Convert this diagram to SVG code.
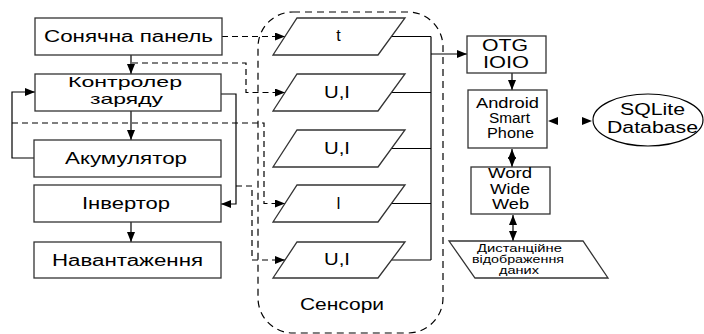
<svg xmlns="http://www.w3.org/2000/svg" width="704" height="334" viewBox="0 0 704 334">
<defs>
<marker id="ah" viewBox="0 0 10 8" refX="10" refY="4" markerWidth="10" markerHeight="8" markerUnits="userSpaceOnUse" orient="auto-start-reverse"><path d="M0,0 L10,4 L0,8 Z" fill="#000"/></marker>
<style>
.box{fill:#fff;stroke:#333;stroke-width:1.3}
.t{font-family:"Liberation Sans",Arial,sans-serif;fill:#000;text-anchor:middle}
.l{font-size:16px}
.c{font-size:15px}
.s{font-size:16px}
.r{font-size:14px}
.d{font-size:11px}
.ln{fill:none;stroke:#000;stroke-width:1.2}
.dash{fill:none;stroke:#000;stroke-width:1.2;stroke-dasharray:6 4}
</style>
</defs>
<rect width="704" height="334" fill="#fff"/>

<g id="sensors-group">
<rect x="258" y="12" width="185" height="321" rx="35" ry="35" fill="none" stroke="#000" stroke-width="1.2" stroke-dasharray="7 5"/>
<text class="t l" x="342" y="310" textLength="84" lengthAdjust="spacingAndGlyphs">Сенсори</text>
</g>

<g id="connectors">
<path class="ln" d="M131,55 V74" marker-end="url(#ah)"/>
<path class="ln" d="M131,111 V140" marker-end="url(#ah)"/>
<path class="ln" d="M131,222 V242" marker-end="url(#ah)"/>
<path class="ln" d="M35,158 H12 V92 H35" marker-end="url(#ah)"/>
<path class="ln" d="M221,94 H236 V204 H221" marker-end="url(#ah)"/>
<path class="dash" d="M222,36.5 H285" marker-end="url(#ah)"/>
<path class="dash" d="M132,63 H246 V92.5 H285" marker-end="url(#ah)"/>
<path class="dash" d="M12,123 H264 V203.5 H285" marker-end="url(#ah)"/>
<path class="dash" d="M236,186 H252 V260 H285" marker-end="url(#ah)"/>
<path class="ln" d="M391.5,36.5 H431 M391.5,92.5 H431 M391.5,148.5 H431 M391.5,203.5 H431 M391.5,260 H431 M431,36.5 V260"/>
<path class="ln" d="M431,54 H467" marker-end="url(#ah)"/>
<path class="ln" d="M512,73 V90" marker-end="url(#ah)"/>
<path class="ln" d="M512,149 V167" marker-start="url(#ah)" marker-end="url(#ah)"/>
<path class="ln" d="M513,215 V241" marker-start="url(#ah)" marker-end="url(#ah)"/>
<path d="M548,121 H592" fill="none" stroke="none" marker-start="url(#ah)" marker-end="url(#ah)"/>
</g>

<g id="solar">
<rect class="box" x="35" y="18" width="187" height="37"/>
<text class="t l" x="128.5" y="42" textLength="169" lengthAdjust="spacingAndGlyphs">Сонячна панель</text>
</g>
<g id="controller">
<rect class="box" x="35" y="74" width="186" height="37"/>
<text class="t c" x="125" y="87" textLength="114" lengthAdjust="spacingAndGlyphs">Контролер</text>
<text class="t c" x="126.5" y="104" textLength="73" lengthAdjust="spacingAndGlyphs">заряду</text>
</g>
<g id="battery">
<rect class="box" x="34" y="140" width="187" height="37"/>
<text class="t l" x="126" y="164" textLength="122" lengthAdjust="spacingAndGlyphs">Акумулятор</text>
</g>
<g id="inverter">
<rect class="box" x="34" y="185" width="187" height="37"/>
<text class="t l" x="126" y="209" textLength="88" lengthAdjust="spacingAndGlyphs">Інвертор</text>
</g>
<g id="load">
<rect class="box" x="34" y="242" width="187" height="36"/>
<text class="t l" x="127.5" y="266" textLength="151" lengthAdjust="spacingAndGlyphs">Навантаження</text>
</g>

<g id="sensor-t">
<path class="box" d="M297,18 H405 L378,55 H273 Z"/>
<text class="t s" x="338.5" y="41">t</text>
</g>
<g id="sensor-ui1">
<path class="box" d="M297,74 H405 L378,111 H273 Z"/>
<text class="t s" x="337" y="98" textLength="26" lengthAdjust="spacingAndGlyphs">U,I</text>
</g>
<g id="sensor-ui2">
<path class="box" d="M297,130 H405 L378,167 H273 Z"/>
<text class="t s" x="337" y="154" textLength="26" lengthAdjust="spacingAndGlyphs">U,I</text>
</g>
<g id="sensor-i">
<path class="box" d="M297,185 H405 L378,222 H273 Z"/>
<text class="t s" x="338.5" y="209">I</text>
</g>
<g id="sensor-ui3">
<path class="box" d="M297,242 H405 L378,278 H273 Z"/>
<text class="t s" x="337" y="265" textLength="26" lengthAdjust="spacingAndGlyphs">U,I</text>
</g>

<g id="otg">
<rect class="box" x="467" y="36" width="79" height="37"/>
<text class="t s" x="505" y="51" textLength="46" lengthAdjust="spacingAndGlyphs">OTG</text>
<text class="t s" x="506" y="68" textLength="46" lengthAdjust="spacingAndGlyphs">IOIO</text>
</g>
<g id="android">
<rect class="box" x="468" y="90" width="79" height="58"/>
<text class="t r" x="507.5" y="108" textLength="63" lengthAdjust="spacingAndGlyphs">Android</text>
<text class="t r" x="509.5" y="123" textLength="41" lengthAdjust="spacingAndGlyphs">Smart</text>
<text class="t r" x="510.5" y="138" textLength="47" lengthAdjust="spacingAndGlyphs">Phone</text>
</g>
<g id="sqlite">
<ellipse cx="648" cy="120" rx="55" ry="26" fill="#fff" stroke="#000" stroke-width="1.2"/>
<text class="t s" x="652.5" y="115" textLength="65" lengthAdjust="spacingAndGlyphs">SQLite</text>
<text class="t s" x="652.5" y="133" textLength="91" lengthAdjust="spacingAndGlyphs">Database</text>
</g>
<g id="www">
<rect class="box" x="471" y="167" width="79" height="47"/>
<text class="t r" x="510" y="178" textLength="44" lengthAdjust="spacingAndGlyphs">Word</text>
<text class="t r" x="510" y="194" textLength="40" lengthAdjust="spacingAndGlyphs">Wide</text>
<text class="t r" x="510.5" y="209" textLength="37" lengthAdjust="spacingAndGlyphs">Web</text>
</g>
<g id="remote">
<path class="box" d="M449,241 H583 L608,278 H475 Z"/>
<text class="t d" x="519.5" y="252" textLength="85" lengthAdjust="spacingAndGlyphs">Дистанційне</text>
<text class="t d" x="518" y="263" textLength="92" lengthAdjust="spacingAndGlyphs">відображення</text>
<text class="t d" x="519" y="274" textLength="40" lengthAdjust="spacingAndGlyphs">даних</text>
</g>
</svg>
